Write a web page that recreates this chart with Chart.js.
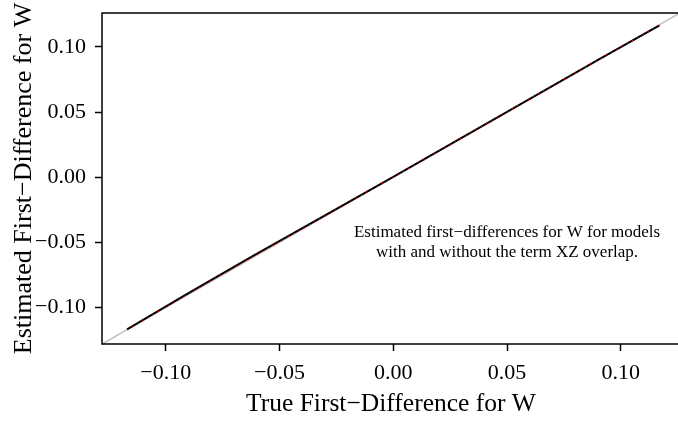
<!DOCTYPE html>
<html>
<head>
<meta charset="utf-8">
<script src="https://cdn.jsdelivr.net/npm/chart.js@4.4.1/dist/chart.umd.min.js"></script>
<style>
  html, body { margin: 0; padding: 0; background: #fff; }
  #wrap { width: 678px; height: 424px; overflow: hidden; position: relative; }
  #inner { width: 682px; height: 424px; }
</style>
</head>
<body>
<div id="wrap"><div id="inner"><canvas id="c" width="682" height="424"></canvas></div></div>
<script>
// ---- data ----
const xTicks = [-0.10, -0.05, 0.00, 0.05, 0.10];
const yTicks = [-0.10, -0.05, 0.00, 0.05, 0.10];
const axisRange = [-0.128, 0.126];              // plotted range (both axes)
const trueFD   = [-0.117, -0.090, -0.062, -0.030, 0.000, 0.030, 0.060, 0.090, 0.117];
const estNoXZ  = [-0.1168, -0.0890, -0.0608, -0.0293, 0.0003, 0.0302, 0.0601, 0.0900, 0.1165];
const estXZ    = [-0.1172, -0.0895, -0.0612, -0.0297, 0.0000, 0.0300, 0.0600, 0.0900, 0.1165];
const refLine  = [-0.128, 0.126];              // 45-degree reference line y = x
const xTitle = "True First\u2212Difference for W";
const yTitle = "Estimated First\u2212Difference for W";
const noteLines = ["Estimated first\u2212differences for W for models",
                   "with and without the term XZ overlap."];
const notePos = [0.05, -0.05];

const fam = "'Liberation Serif', 'DejaVu Serif', serif";
const fmt = v => (v < 0 ? "\u2212" : "") + Math.abs(v).toFixed(2);

const boxPlugin = {
  id: 'box',
  afterDraw(chart) {
    const {ctx, chartArea: a, scales} = chart;
    ctx.save();
    ctx.strokeStyle = '#000';
    ctx.lineWidth = 1.5;
    ctx.strokeRect(a.left, a.top, a.right - a.left, a.bottom - a.top);
    ctx.fillStyle = '#000';
    ctx.font = "17px " + fam;
    ctx.textAlign = 'center';
    ctx.textBaseline = 'middle';
    const cx = scales.x.getPixelForValue(notePos[0]);
    const cy = scales.y.getPixelForValue(notePos[1]);
    ctx.fillText(noteLines[0], cx, cy - 10);
    ctx.fillText(noteLines[1], cx, cy + 10);
    ctx.restore();
  }
};

new Chart(document.getElementById('c'), {
  type: 'scatter',
  data: {
    datasets: [
      { data: refLine.map(v => ({x: v, y: v})), showLine: true, borderColor: '#bebebe',
        borderWidth: 1.5, pointRadius: 0, order: 3 },
      { data: trueFD.map((v, i) => ({x: v, y: estNoXZ[i]})), showLine: true, borderColor: '#000',
        borderWidth: 2, pointRadius: 0, order: 2 },
      { data: trueFD.map((v, i) => ({x: v, y: estXZ[i]})), showLine: true, borderColor: '#ff0000',
        borderWidth: 1.4, borderDash: [1, 5], pointRadius: 0, order: 1 }
    ]
  },
  options: {
    responsive: false,
    animation: false,
    layout: { padding: { top: 13, right: 2, left: 0, bottom: 0 } },
    plugins: { legend: { display: false }, tooltip: { enabled: false } },
    scales: {
      x: {
        type: 'linear', min: axisRange[0], max: axisRange[1],
        afterBuildTicks: s => { s.ticks = xTicks.map(v => ({value: v})); },
        afterFit: s => { s.height = 80; s.paddingLeft = 0; s.paddingRight = 0; },
        grid: { drawOnChartArea: false, drawTicks: true, tickLength: 7, color: '#000', tickWidth: 1.5 },
        border: { display: false },
        ticks: { callback: v => fmt(v), color: '#000', font: { family: fam, size: 22 }, padding: 9, maxRotation: 0 },
        title: { display: true, text: xTitle, color: '#000', font: { family: fam, size: 25.5 }, padding: { top: 0, bottom: 4 } }
      },
      y: {
        type: 'linear', min: axisRange[0], max: axisRange[1],
        afterBuildTicks: s => { s.ticks = yTicks.map(v => ({value: v})); },
        afterFit: s => { s.width = 102; s.paddingTop = 0; s.paddingBottom = 0; },
        grid: { drawOnChartArea: false, drawTicks: true, tickLength: 7, color: '#000', tickWidth: 1.5 },
        border: { display: false },
        ticks: { callback: v => fmt(v), color: '#000', font: { family: fam, size: 22 }, padding: 9 },
        title: { display: true, text: yTitle, color: '#000', font: { family: fam, size: 26 }, padding: { top: 9, bottom: 0 } }
      }
    }
  },
  plugins: [boxPlugin]
});
</script>
</body>
</html>
